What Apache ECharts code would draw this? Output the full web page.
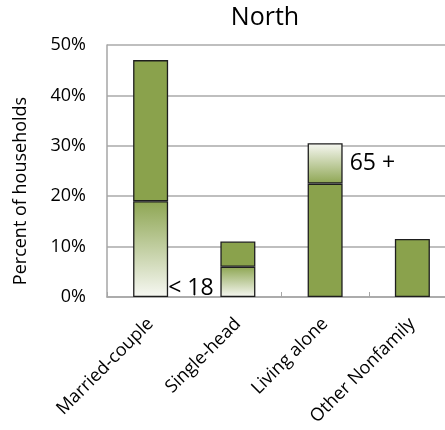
<!DOCTYPE html>
<html>
<head>
<meta charset="utf-8">
<script src="https://cdn.jsdelivr.net/npm/echarts@6/dist/echarts.min.js"></script>
<style>html,body{margin:0;padding:0;background:#fff;}#c{width:445px;height:430px;}</style>
</head>
<body>
<div id="c"></div>
<script>
const categories = ['Married-couple', 'Single-head', 'Living alone', 'Other Nonfamily'];
const under18 = [19, 6, null, null];
const adults = [28, 5, 22.5, 11.5];
const over65 = [null, null, 8, null];
const yTicks = [0, 10, 20, 30, 40, 50];

const GREEN = '#8aa24c';
const FONT = 'Open Sans';
const gradDown = { type: 'linear', x: 0, y: 0, x2: 0, y2: 1,
  colorStops: [{ offset: 0, color: '#8ea653' }, { offset: 1, color: '#f7f8f3' }] };
const gradUp = { type: 'linear', x: 0, y: 0, x2: 0, y2: 1,
  colorStops: [{ offset: 0, color: '#f7f8f3' }, { offset: 1, color: '#8ea653' }] };
const border = { borderColor: '#1e1e1e', borderWidth: 1.3 };

const chart = echarts.init(document.getElementById('c'));
chart.setOption({
  animation: false,
  backgroundColor: '#fff',
  title: { text: 'North', left: 260, top: 0, textAlign: 'center',
    textStyle: { fontFamily: FONT, fontSize: 25, fontWeight: 'normal', color: '#000' } },
  grid: { left: 107, top: 45, width: 349, height: 252, containLabel: false, outerBoundsMode: 'none' },
  xAxis: {
    type: 'category', data: categories,
    axisLine: { lineStyle: { color: '#a6a6a6', width: 1.5 } },
    axisTick: { show: true, inside: true, length: 5, lineStyle: { color: '#a6a6a6' } },
    axisLabel: { rotate: 45, margin: 24, fontFamily: FONT, fontSize: 18, color: '#000', interval: 0 }
  },
  yAxis: {
    type: 'value', min: yTicks[0], max: yTicks[yTicks.length - 1], interval: 10,
    axisLine: { show: true, lineStyle: { color: '#a6a6a6', width: 1.5 } },
    axisTick: { show: false },
    splitLine: { lineStyle: { color: '#aaaaaa', width: 1.6 } },
    axisLabel: { formatter: '{value}%', margin: 21, fontFamily: FONT, fontSize: 18, color: '#000' }
  },
  graphic: [{
    type: 'text', x: 21, y: 191, rotation: Math.PI / 2,
    style: { text: 'Percent of households', fontFamily: FONT, fontSize: 18, fill: '#000',
      align: 'center', verticalAlign: 'middle' }
  }],
  series: [
    { name: '< 18', type: 'bar', stack: 'h', barWidth: 35,
      data: under18,
      itemStyle: Object.assign({ color: gradDown }, border),
      label: { show: true, formatter: p => p.dataIndex === 0 ? '< 18' : '',
        position: ['100%', '100%'], align: 'left', verticalAlign: 'bottom', offset: [0, 3],
        fontFamily: FONT, fontSize: 23, color: '#000' } },
    { name: 'adults', type: 'bar', stack: 'h', barWidth: 35,
      data: adults,
      itemStyle: Object.assign({ color: GREEN }, border) },
    { name: '65 +', type: 'bar', stack: 'h', barWidth: 35,
      data: over65,
      itemStyle: Object.assign({ color: gradUp }, border),
      label: { show: true, formatter: '65 +', position: 'right', distance: 7,
        fontFamily: FONT, fontSize: 23, color: '#000' } }
  ]
});
</script>
</body>
</html>
